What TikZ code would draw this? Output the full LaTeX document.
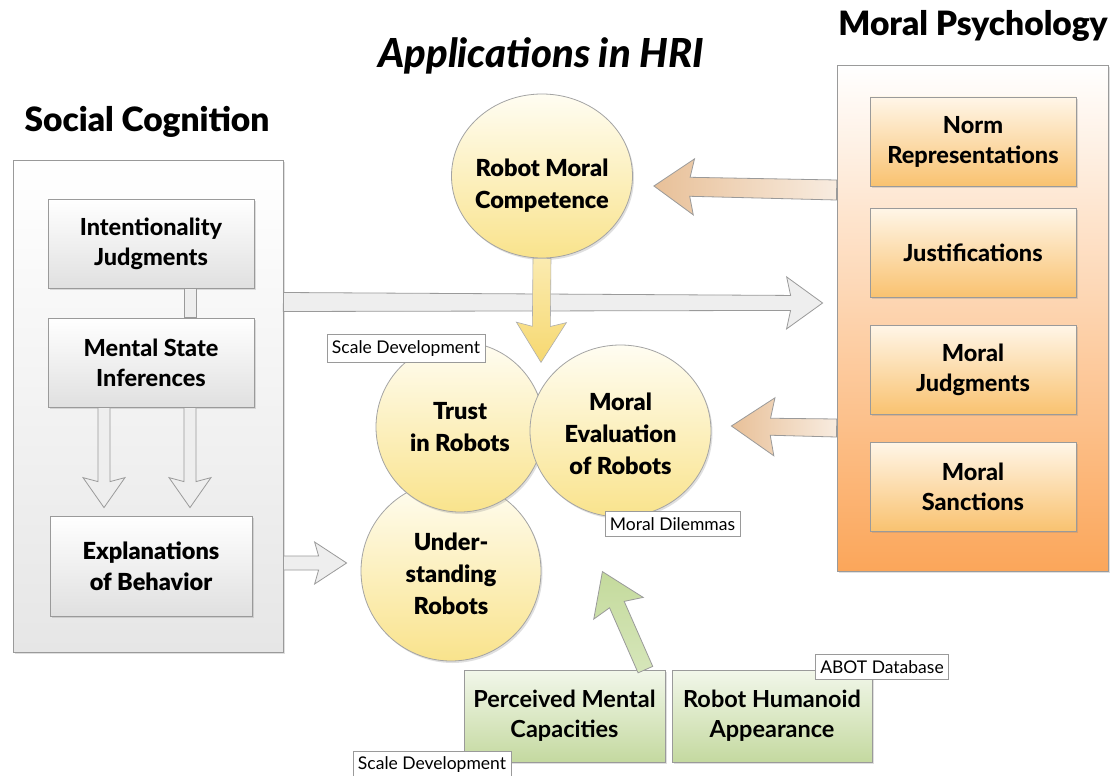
\documentclass[tikz,border=0pt]{standalone}
\usepackage{fontspec}
\setmainfont{Lato}
\newfontfamily\headfont{Lato}[UprightFont=* Black, ItalicFont=* Black Italic]
\newfontfamily\heavyfont{Lato}[UprightFont=* Heavy]
\usetikzlibrary{calc,shadows,shapes.geometric}

\definecolor{gbord}{HTML}{9A9A9A}
\definecolor{gpanelbot}{HTML}{E6E6E6}
\definecolor{grayboxbot}{HTML}{E0E0E0}
\definecolor{opanelbot}{HTML}{FBA65A}
\definecolor{oboxtop}{HTML}{FFF6E8}
\definecolor{oboxbot}{HTML}{F9C270}
\definecolor{ctop}{HTML}{FFFDF2}
\definecolor{cbot}{HTML}{F9E38C}
\definecolor{yarrowtop}{HTML}{FBEBB0}
\definecolor{yarrowbot}{HTML}{F6D870}
\definecolor{oarrowdark}{HTML}{E8C098}
\definecolor{oarrowlight}{HTML}{F8ECE0}
\definecolor{garrowtop}{HTML}{C4DA9C}
\definecolor{garrowbot}{HTML}{D6E6BA}
\definecolor{greenboxtop}{HTML}{F2F7EA}
\definecolor{greenboxbot}{HTML}{C4D9A0}
\definecolor{grayarrow}{HTML}{EEEEEE}

\newcommand{\boxfont}{\heavyfont\fontsize{23.5}{30}\selectfont}
\newcommand{\greenboxfont}{\bfseries\fontsize{23.5}{30}\selectfont}
\newcommand{\heavyboxfont}{\headfont\fontsize{23.5}{31}\selectfont}
\newcommand{\circfont}{\headfont\fontsize{23.5}{32}\selectfont}
\newcommand{\lblfont}{\fontsize{17.5}{20}\selectfont}
\newcommand{\titlefont}{\headfont\fontsize{33.5}{38}\selectfont}

% block arrow: #1 style, #2 start, #3 end, #4 start half width,
% #5 shaft half width near head, #6 head half width, #7 head length
\newcommand{\blockarrow}[7][]{%
  \path let \p1=(#2), \p2=(#3) in \pgfextra{%
    \pgfmathsetmacro\baangtmp{atan2(\y2-\y1,\x2-\x1)}%
    \pgfmathsetmacro\balentmp{veclen(\x2-\x1,\y2-\y1)}%
    \xdef\baang{\baangtmp}\xdef\balen{\balentmp}};
  \begin{scope}[shift={(#2)},rotate=\baang]
    \path[#1] (0,-#4) -- (\balen-#7+4,-#5) -- (\balen-#7,-#6) -- (\balen,0)
      -- (\balen-#7,#6) -- (\balen-#7+4,#5) -- (0,#4) -- cycle;
  \end{scope}}

\tikzset{
  shadowed/.style={drop shadow={shadow xshift=1.5pt, shadow yshift=-2pt, opacity=0.25}},
  title/.style={font=\titlefont, inner sep=0pt},
  lpanel/.style={draw=gbord, line width=0.8pt, top color=white, bottom color=gpanelbot,
    minimum width=270pt, minimum height=492pt, inner sep=0pt, shadowed},
  rpanel/.style={draw=gbord, line width=0.8pt, top color=white, bottom color=opanelbot,
    minimum width=271pt, minimum height=506pt, inner sep=0pt, shadowed},
  gbox/.style={draw=gbord, line width=0.8pt, top color=white, bottom color=grayboxbot,
    minimum width=206pt, minimum height=89pt, inner sep=0pt, align=center, font=\boxfont, shadowed},
  obox/.style={gbox, top color=oboxtop, bottom color=oboxbot},
  grbox/.style={gbox, font=\greenboxfont, top color=greenboxtop, bottom color=greenboxbot, minimum width=201pt, minimum height=92pt},
  circ/.style={ellipse, draw=gbord!90, line width=0.8pt, top color=ctop, bottom color=cbot,
    inner sep=0pt, align=center, font=\circfont, shadowed},
  ctext/.style={align=center, font=\circfont, inner sep=0pt},
  lbl/.style={draw=gbord, line width=0.6pt, fill=white, font=\lblfont, inner xsep=5pt, inner ysep=6pt},
  grayarr/.style={draw=gbord, line width=0.8pt, fill=grayarrow},
  orangearr/.style={draw=gbord, line width=0.8pt, left color=oarrowdark, right color=oarrowlight},
  yellowarr/.style={draw=gbord!80, line width=0.6pt, top color=yarrowtop, bottom color=yarrowbot},
  greenarr/.style={draw=gbord, line width=0.8pt, top color=garrowtop, bottom color=garrowbot},
}

\begin{document}
\begin{tikzpicture}[x=1pt,y=-1pt]
\fill[white] (0,0) rectangle (1112,776);
\useasboundingbox (0,0) rectangle (1112,776);

% titles
\node[title] (tsc) at (147,122) {Social Cognition};
\node[title, font=\headfont\itshape\fontsize{40}{44}\selectfont] (thri) at (541,56) {Applications in HRI};
\node[title] (tmp) at (973,26) {Moral Psychology};

% panels
\node[lpanel] (lp) at (148,406) {};
\node[rpanel] (rp) at (972.5,318) {};

% social cognition boxes
\node[gbox] (ij) at (151,243.5) {Intentionality\\Judgments};
\node[gbox] (ms) at (151,362.5) {Mental State\\Inferences};
\node[gbox, font=\heavyboxfont, minimum width=202pt, minimum height=100pt] (eb) at (151,566) {Explanations\\of Behavior};

% internal connectors
\draw[grayarr] ($(ij.south)+(33,0)$) rectangle ($(ms.north)+(45,0)$);
\blockarrow[grayarr]{$(ms.south)+(-47,0)$}{$(eb.north)+(-47,-8)$}{6}{6}{21}{30}
\blockarrow[grayarr]{$(ms.south)+(39,0)$}{$(eb.north)+(39,-8)$}{6}{6}{21}{30}

% moral psychology boxes
\node[obox] (nr) at (973,141.5) {Norm\\Representations};
\node[obox] (ju) at (973,252.5) {Justifications};
\node[obox] (mj) at (973,369.5) {Moral\\Judgments};
\node[obox] (msa) at (973,486.5) {Moral\\Sanctions};

% circles
\node[circ, minimum width=180pt, minimum height=180pt] (und) at (451,571) {};
\node[ctext] (undt) at ($(und.center)+(0,3)$) {Under-\\standing\\Robots};
\node[circ, minimum width=168pt, minimum height=170pt] (tr) at (460,427) {Trust\\in Robots};
\node[circ, minimum width=181pt, minimum height=172pt] (me) at (620.5,431) {};
\node[ctext] (met) at ($(me.center)+(0,3)$) {Moral\\Evaluation\\of Robots};
\node[circ, minimum width=181pt, minimum height=164pt] (rmc) at (542,176) {};
\node[ctext] (rmct) at ($(rmc.center)+(0,10)$) {Robot Moral\\Competence};

% long horizontal arrow
\blockarrow[grayarr]{$(lp.east)+(0,-104)$}{$(rp.west)+(-14,-15)$}{9.5}{7.5}{26}{36}

% yellow arrow
\blockarrow[yellowarr]{rmc.south}{$(rmc.south)+(-1,104)$}{9}{9}{25}{40}

% orange arrows
\blockarrow[orangearr]{$(rp.west)+(0,-128)$}{$(rmc.east)+(21,10)$}{10}{9.5}{28}{40}
\blockarrow[orangearr]{$(rp.west)+(0,110)$}{$(me.east)+(20,-5)$}{9}{8.5}{29}{43}

% explanation arrow
\blockarrow[grayarr]{$(lp.east)+(0,157)$}{$(und.west)+(-14,-8)$}{7}{7}{21}{32}

% green boxes
\node[grbox] (pmc) at (564.5,716) {Perceived Mental\\Capacities};
\node[grbox, minimum width=200pt] (rha) at (772,716) {Robot Humanoid\\Appearance};

% green arrow
\blockarrow[greenarr]{$(pmc.north east)+(-20,0)$}{$(pmc.north east)+(-63,-98)$}{8}{8}{27}{40}

% labels
\node[lbl] (sd1) at (406,348.5) {Scale Development};
\node[lbl] (md) at (672.5,524) {Moral Dilemmas};
\node[lbl] (abot) at (882,667) {ABOT Database};
\node[lbl] (sd2) at (432,765) {Scale Development};
\end{tikzpicture}
\end{document}
